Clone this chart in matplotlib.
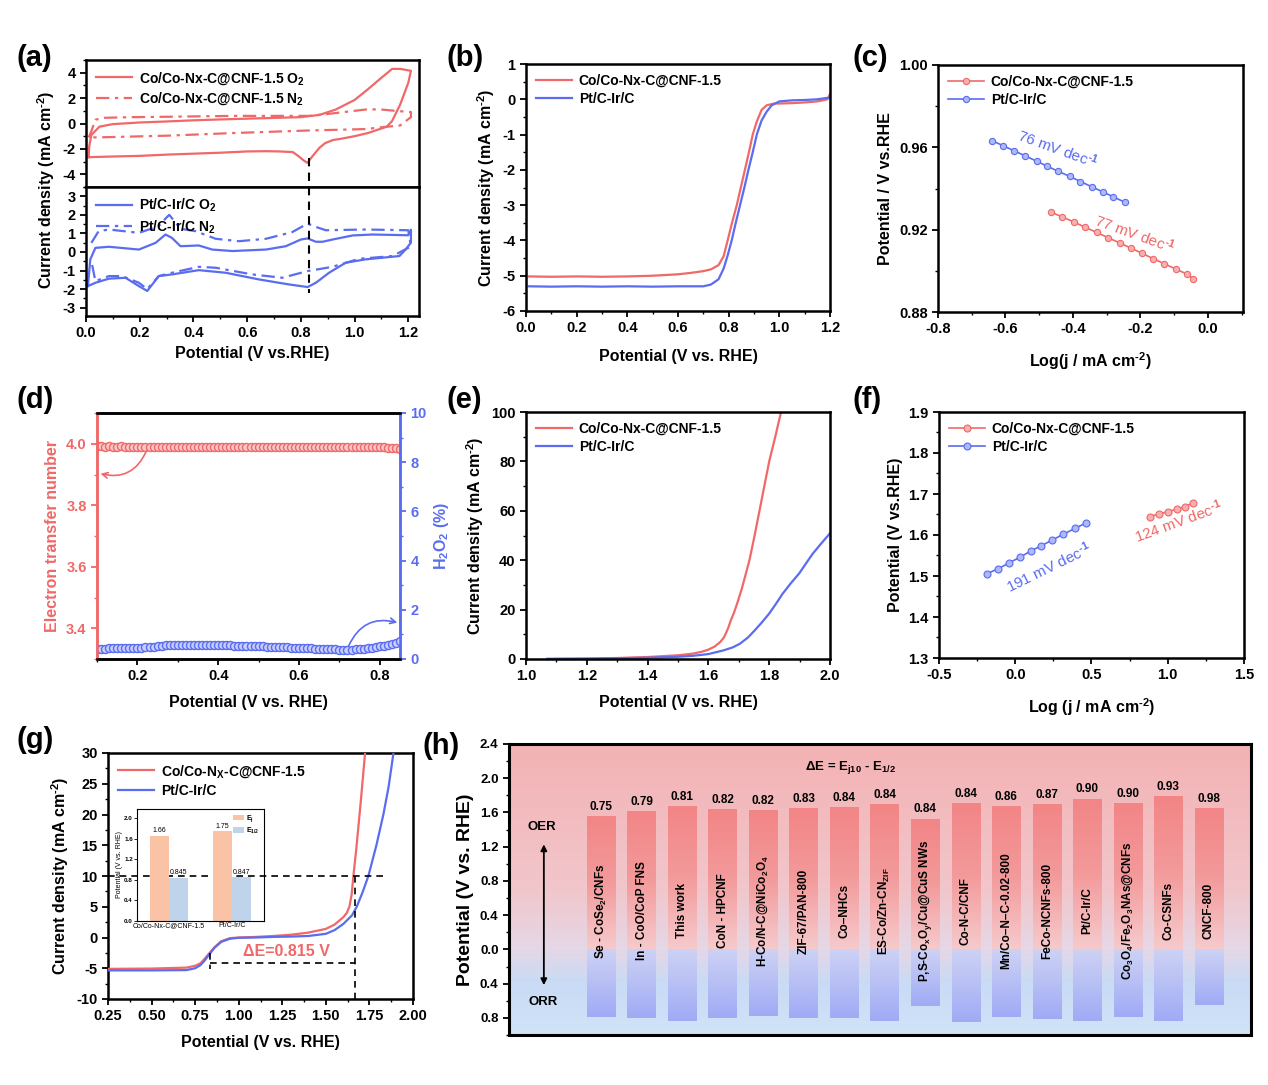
import numpy as np
import matplotlib
matplotlib.use('Agg')
import matplotlib.pyplot as plt
from matplotlib.ticker import MultipleLocator, FormatStrFormatter, FixedLocator, FuncFormatter
from matplotlib.colors import LinearSegmentedColormap

plt.rcParams['font.family'] = ['Liberation Sans', 'DejaVu Sans']
plt.rcParams['font.weight'] = 'bold'
plt.rcParams['axes.labelweight'] = 'bold'
plt.rcParams['axes.unicode_minus'] = False
plt.rcParams['mathtext.fontset'] = 'custom'
plt.rcParams['mathtext.rm'] = 'Liberation Sans:bold'
plt.rcParams['mathtext.bf'] = 'Liberation Sans:bold'
plt.rcParams['mathtext.it'] = 'Liberation Sans:bold'
plt.rcParams['mathtext.default'] = 'bf'
plt.rcParams['xtick.direction'] = 'out'
plt.rcParams['ytick.direction'] = 'out'

RED = '#F06868'
BLUE = '#5A6CF0'
LRED = '#F7AFAF'
LBLUE = '#AEB8F7'
HY = '\u2010'  # short hyphen used in the superscripts
CD = 'Current density (mA cm$^{' + HY + '2}$)'

# ---------------- data ----------------
# (a) CV curves
a_red_o2_x = [0.01, 0.012, 0.02, 0.05, 0.1, 0.2, 0.3, 0.4, 0.5, 0.6, 0.7, 0.8, 0.87, 0.93, 1.0, 1.05, 1.1, 1.14,
              1.17, 1.21, 1.2, 1.17, 1.14, 1.12, 1.05, 1.0, 0.95, 0.92, 0.89, 0.87, 0.85, 0.835, 0.825, 0.81,
              0.79, 0.77, 0.72, 0.67, 0.6, 0.5, 0.42, 0.3, 0.2, 0.1, 0.01]
a_red_o2_y = [-2.65, -1.8, -0.9, -0.25, -0.05, 0.08, 0.16, 0.25, 0.32, 0.38, 0.44, 0.5, 0.68, 1.1, 1.85, 2.7, 3.6,
              4.3, 4.3, 4.15, 3.2, 1.5, 0.2, -0.25, -0.75, -1.0, -1.2, -1.3, -1.55, -1.9, -2.4, -2.8, -3.1, -2.9,
              -2.55, -2.25, -2.2, -2.18, -2.2, -2.3, -2.36, -2.45, -2.55, -2.6, -2.65]
a_red_n2_x = [0.01, 0.02, 0.035, 0.07, 0.17, 0.3, 0.55, 0.83, 0.9, 0.98, 1.05, 1.1, 1.15, 1.21, 1.21, 1.17, 1.1,
              1.04, 0.83, 0.55, 0.3, 0.05, 0.01]
a_red_n2_y = [-1.1, -0.6, 0.3, 0.45, 0.5, 0.53, 0.6, 0.6, 0.75, 0.95, 1.12, 1.1, 1.0, 0.9, 0.5, -0.15, -0.3,
              -0.44, -0.55, -0.75, -0.96, -1.09, -1.1]
a_blue_o2_x = [0.007, 0.016, 0.035, 0.085, 0.197, 0.259, 0.296, 0.32, 0.352, 0.42, 0.47, 0.545, 0.67, 0.744, 0.8,
               0.825, 0.856, 0.881, 0.918, 0.993, 1.067, 1.2, 1.21, 1.21, 1.19, 1.167, 1.04, 0.967, 0.905, 0.856,
               0.825, 0.756, 0.644, 0.52, 0.42, 0.32, 0.271, 0.228, 0.197, 0.147, 0.085, 0.035, 0.007]
a_blue_o2_y = [-1.84, -0.4, 0.22, 0.28, 0.13, 0.49, 0.94, 0.76, 0.31, 0.35, 0.13, 0.05, 0.13, 0.31, 0.67, 0.73,
               0.55, 0.55, 0.67, 0.89, 0.94, 0.9, 1.2, 0.5, 0.13, -0.22, -0.4, -0.58, -1.12, -1.66, -1.89, -1.75,
               -1.48, -1.12, -0.98, -1.21, -1.3, -2.1, -1.84, -1.39, -1.44, -1.66, -1.84]
a_blue_n2_x = [0.02, 0.047, 0.085, 0.197, 0.271, 0.296, 0.31, 0.352, 0.408, 0.483, 0.57, 0.67, 0.768, 0.825,
               0.856, 0.893, 1.04, 1.2, 1.21, 1.142, 1.017, 0.918, 0.825, 0.731, 0.619, 0.483, 0.42, 0.32,
               0.271, 0.228, 0.197, 0.134, 0.085, 0.035, 0.02]
a_blue_n2_y = [0.49, 1.12, 1.21, 1.03, 1.39, 1.8, 2.0, 1.25, 1.12, 0.71, 0.58, 0.71, 1.07, 1.53, 1.35, 1.17,
               1.21, 1.17, 0.3, -0.22, -0.37, -0.8, -1.03, -1.39, -1.21, -0.85, -0.8, -1.12, -1.3, -2.0, -1.66,
               -1.3, -1.3, -1.57, -0.5]

# (b) ORR LSV
b_red_x = [0.01, 0.1, 0.2, 0.3, 0.4, 0.5, 0.6, 0.65, 0.7, 0.73, 0.76, 0.78, 0.796, 0.815, 0.832, 0.848, 0.864,
           0.88, 0.895, 0.91, 0.93, 0.95, 0.98, 1.0, 1.05, 1.1, 1.15, 1.19, 1.2]
b_red_y = [-5.02, -5.03, -5.02, -5.03, -5.02, -5.0, -4.96, -4.92, -4.87, -4.82, -4.7, -4.45, -4.0, -3.45, -3.0,
           -2.5, -2.0, -1.5, -1.0, -0.65, -0.3, -0.17, -0.12, -0.12, -0.11, -0.09, -0.06, 0.0, 0.15]
b_blue_x = [0.01, 0.1, 0.2, 0.3, 0.4, 0.5, 0.6, 0.7, 0.73, 0.76, 0.78, 0.795, 0.812, 0.828, 0.845, 0.862, 0.878,
            0.895, 0.911, 0.93, 0.95, 0.97, 1.0, 1.05, 1.1, 1.15, 1.2]
b_blue_y = [-5.3, -5.31, -5.3, -5.31, -5.3, -5.31, -5.3, -5.3, -5.25, -5.1, -4.8, -4.45, -4.0, -3.5, -3.0, -2.5,
            -2.0, -1.5, -1.0, -0.6, -0.35, -0.17, -0.06, -0.03, -0.02, 0.0, 0.05]

# (c) ORR Tafel
c_red_x = [-0.466, -0.432, -0.397, -0.363, -0.330, -0.296, -0.262, -0.229, -0.195, -0.162, -0.129, -0.094,
           -0.061, -0.043]
c_red_y = [0.9286, 0.9262, 0.9237, 0.9211, 0.9187, 0.9161, 0.9136, 0.9111, 0.9085, 0.9059, 0.9034, 0.9008,
           0.8983, 0.8962]
c_blue_x = [-0.639, -0.606, -0.574, -0.541, -0.508, -0.476, -0.443, -0.410, -0.378, -0.345, -0.312, -0.280,
            -0.247]
c_blue_y = [0.9632, 0.9607, 0.9583, 0.9558, 0.9533, 0.9508, 0.9483, 0.9459, 0.9434, 0.9409, 0.9384, 0.9359,
            0.9334]

# (d) RRDE: electron transfer number and H2O2 yield
d_x = np.round(np.arange(0.10, 0.851, 0.01), 2)
d_n = [3.992, 3.992, 3.991, 3.992, 3.991, 3.991, 3.992, 3.991, 3.991, 3.991,
       3.990, 3.990, 3.990, 3.990, 3.990, 3.990, 3.990, 3.990, 3.990, 3.990,
       3.990, 3.990, 3.990, 3.990, 3.990, 3.990, 3.990, 3.990, 3.990, 3.990,
       3.990, 3.990, 3.990, 3.990, 3.990, 3.990, 3.990, 3.990, 3.990, 3.990,
       3.990, 3.990, 3.990, 3.990, 3.990, 3.990, 3.990, 3.990, 3.990, 3.990,
       3.990, 3.990, 3.990, 3.990, 3.990, 3.990, 3.990, 3.990, 3.990, 3.990,
       3.990, 3.990, 3.990, 3.990, 3.990, 3.990, 3.990, 3.990, 3.990, 3.990,
       3.989, 3.988, 3.987, 3.986, 3.985, 3.984]
d_h2o2 = [0.42, 0.42, 0.42, 0.43, 0.43, 0.43, 0.44, 0.44, 0.44, 0.45,
          0.45, 0.46, 0.47, 0.48, 0.49, 0.51, 0.53, 0.55, 0.56, 0.57,
          0.58, 0.58, 0.58, 0.58, 0.58, 0.58, 0.58, 0.57, 0.57, 0.57,
          0.56, 0.56, 0.55, 0.55, 0.54, 0.54, 0.53, 0.53, 0.52, 0.52,
          0.51, 0.51, 0.50, 0.50, 0.49, 0.48, 0.48, 0.47, 0.46, 0.46,
          0.45, 0.44, 0.44, 0.43, 0.42, 0.42, 0.41, 0.40, 0.40, 0.39,
          0.38, 0.38, 0.38, 0.38, 0.39, 0.40, 0.42, 0.44, 0.46, 0.48,
          0.51, 0.54, 0.57, 0.62, 0.67, 0.72]

# (e) OER LSV
e_red_x = [1.07, 1.2, 1.3, 1.4, 1.5, 1.55, 1.58, 1.6, 1.62, 1.64, 1.652, 1.665, 1.674, 1.685, 1.696, 1.71, 1.722,
           1.735, 1.752, 1.768, 1.784, 1.80, 1.82, 1.839]
e_red_y = [0.1, 0.2, 0.4, 0.8, 1.5, 2.2, 3.0, 3.8, 5.0, 7.0, 8.9, 12.5, 15.7, 19.0, 23.0, 28.5, 34.0, 40.0,
           50.0, 60.0, 70.0, 80.0, 90.0, 100.0]
e_blue_x = [1.07, 1.2, 1.3, 1.4, 1.5, 1.55, 1.6, 1.65, 1.68, 1.704, 1.73, 1.751, 1.775, 1.80, 1.822, 1.844,
            1.87, 1.899, 1.92, 1.943, 1.97, 2.0]
e_blue_y = [0.0, 0.1, 0.3, 0.5, 0.9, 1.3, 2.0, 3.5, 4.7, 6.2, 8.7, 11.4, 14.7, 18.4, 22.3, 26.4, 30.5, 34.7,
            38.5, 42.6, 46.6, 50.9]

# (f) OER Tafel
f_red_x = [0.883, 0.942, 1.001, 1.058, 1.113, 1.168]
f_red_y = [1.645, 1.651, 1.657, 1.663, 1.669, 1.679]
f_blue_x = [-0.183, -0.110, -0.040, 0.032, 0.102, 0.172, 0.244, 0.316, 0.391, 0.467]
f_blue_y = [1.506, 1.518, 1.532, 1.546, 1.561, 1.574, 1.588, 1.602, 1.616, 1.630]

# (g) full range LSV
g_red_x = [0.25, 0.5, 0.7, 0.75, 0.78, 0.8, 0.83, 0.86, 0.9, 0.95, 1.0, 1.1, 1.2, 1.3, 1.4, 1.5, 1.55, 1.6, 1.62,
           1.635, 1.648, 1.658, 1.675, 1.7, 1.725]
g_red_y = [-5.1, -5.05, -4.9, -4.6, -4.2, -3.6, -2.6, -1.6, -0.6, -0.1, 0.0, 0.1, 0.25, 0.45, 0.8, 1.4, 2.1, 3.3,
           4.0, 5.0, 7.0, 10.0, 14.5, 22.0, 30.0]
g_blue_x = [0.25, 0.5, 0.7, 0.75, 0.78, 0.8, 0.83, 0.86, 0.9, 0.95, 1.0, 1.1, 1.2, 1.3, 1.4, 1.5, 1.55, 1.6, 1.65,
            1.677, 1.71, 1.744, 1.79, 1.83, 1.86, 1.888]
g_blue_y = [-5.35, -5.35, -5.3, -5.0, -4.5, -3.9, -2.8, -1.7, -0.7, -0.2, -0.05, 0.0, 0.1, 0.15, 0.25, 0.6, 1.2,
            2.2, 3.6, 5.0, 7.3, 10.0, 15.0, 20.0, 24.5, 30.0]
g_e_j10 = 1.665
g_e_half = 0.835
inset_groups = ['Co/Co-Nx-C@CNF-1.5', 'Pt/C-Ir/C']
inset_ej = [1.66, 1.75]
inset_ehalf = [0.845, 0.847]

# (h) comparison of OER (E_j10) and ORR (E_1/2)
h_names = ['Se - CoSe$_2$/CNFs', 'In - CoO/CoP FNS', 'This work', 'CoN - HPCNF', 'H-Co/N-C@NiCo$_2$O$_4$',
           'ZIF-67/PAN-800', 'Co\u2013NHCs', 'ES-Co/Zn-CN$_{ZIF}$', 'P,S-Co$_x$O$_y$/Cu@CuS NWs', 'Co-N-C/CNF',
           'Mn/Co\u2013N\u2013C-0.02-800', 'FeCo-NCNFs-800', 'Pt/C-Ir/C', 'Co$_3$O$_4$/Fe$_2$O$_3$NAs@CNFs',
           'Co-CSNFs', 'CNCF-800']
h_oer = [1.546, 1.604, 1.662, 1.631, 1.619, 1.639, 1.654, 1.685, 1.515, 1.701, 1.662, 1.689, 1.751, 1.701,
         1.779, 1.643]
h_orr = [0.784, 0.800, 0.835, 0.800, 0.777, 0.800, 0.800, 0.839, 0.656, 0.847, 0.784, 0.808, 0.835, 0.784,
         0.839, 0.645]
h_delta = ['0.75', '0.79', '0.81', '0.82', '0.82', '0.83', '0.84', '0.84', '0.84', '0.84', '0.86', '0.87',
           '0.90', '0.90', '0.93', '0.98']

# ---------------- figure ----------------
W, H = 1268, 1085
fig = plt.figure(figsize=(W / 100, H / 100), dpi=100)


def box(l, r, t, b):
    return [l / W, 1 - b / H, (r - l) / W, (b - t) / H]


def style(ax, lw=1.8):
    for s in ax.spines.values():
        s.set_linewidth(lw)
    ax.tick_params(which='major', length=4, width=1.3, labelsize=10.5, top=False, right=False)
    ax.tick_params(which='minor', length=2.2, width=1.0, top=False, right=False)


AL = 11.5  # axis label size
LEG = dict(frameon=False, fontsize=10, handlelength=2.6, borderaxespad=0.3, labelspacing=0.3, handletextpad=0.5)
DASHDOT = (0, (6, 2.5, 1.5, 2.5))

# ----- (a)
ax_at = fig.add_axes(box(86, 419, 60, 187))
ax_ab = fig.add_axes(box(86, 419, 187, 316))
ax_at.plot(a_red_o2_x, a_red_o2_y, color=RED, lw=1.6, label='Co/Co-Nx-C@CNF-1.5 O$_2$')
ax_at.plot(a_red_n2_x, a_red_n2_y, color=RED, lw=1.6, ls=DASHDOT, label='Co/Co-Nx-C@CNF-1.5 N$_2$')
ax_ab.plot(a_blue_o2_x, a_blue_o2_y, color=BLUE, lw=1.6, label='Pt/C-Ir/C O$_2$')
ax_ab.plot(a_blue_n2_x, a_blue_n2_y, color=BLUE, lw=1.6, ls=DASHDOT, label='Pt/C-Ir/C N$_2$')
for ax in (ax_at, ax_ab):
    ax.set_xlim(0, 1.24)
    ax.xaxis.set_major_locator(MultipleLocator(0.2))
    ax.xaxis.set_minor_locator(MultipleLocator(0.1))
    style(ax)
ax_at.set_ylim(-5, 5)
ax_at.yaxis.set_major_locator(FixedLocator([-4, -2, 0, 2, 4]))
ax_at.yaxis.set_minor_locator(MultipleLocator(1))
ax_at.tick_params(axis='x', which='both', labelbottom=False, length=0)
ax_ab.set_ylim(-3.45, 3.5)
ax_ab.yaxis.set_major_locator(FixedLocator([-3, -2, -1, 0, 1, 2, 3]))
ax_ab.yaxis.set_minor_locator(MultipleLocator(0.5))
ax_ab.xaxis.set_major_formatter(FormatStrFormatter('%.1f'))
ax_at.plot([0.83, 0.83], [-2.75, -5], color='black', lw=1.5, ls=(0, (4, 3)))
ax_ab.plot([0.83, 0.83], [3.5, -2.2], color='black', lw=1.5, ls=(0, (4, 3)))
ax_at.legend(loc='upper left', **LEG)
ax_ab.legend(loc='upper left', **LEG)
ax_ab.set_xlabel('Potential (V vs.RHE)', fontsize=AL)
fig.text(46 / W, 1 - 190 / H, CD, rotation=90, ha='center', va='center', fontsize=AL, fontweight='bold')

# ----- (b)
ax_b = fig.add_axes(box(526, 830, 64, 311))
ax_b.plot(b_red_x, b_red_y, color=RED, lw=1.6, label='Co/Co-Nx-C@CNF-1.5')
ax_b.plot(b_blue_x, b_blue_y, color=BLUE, lw=1.6, label='Pt/C-Ir/C')
ax_b.set_xlim(0, 1.2)
ax_b.set_ylim(-6, 1)
ax_b.xaxis.set_major_locator(MultipleLocator(0.2))
ax_b.xaxis.set_minor_locator(MultipleLocator(0.1))
ax_b.xaxis.set_major_formatter(FormatStrFormatter('%.1f'))
ax_b.yaxis.set_major_locator(MultipleLocator(1))
ax_b.yaxis.set_minor_locator(MultipleLocator(0.5))
style(ax_b)
ax_b.legend(loc='upper left', **LEG)
ax_b.set_xlabel('Potential (V vs. RHE)', fontsize=AL, labelpad=10)
ax_b.set_ylabel(CD, fontsize=AL)

# ----- (c)
ax_c = fig.add_axes(box(938, 1243, 65, 312))
ax_c.plot(c_red_x, c_red_y, color=RED, lw=1.2, marker='o', ms=4.5, mfc=LRED, mec=RED, mew=0.8,
          label='Co/Co-Nx-C@CNF-1.5')
ax_c.plot(c_blue_x, c_blue_y, color=BLUE, lw=1.2, marker='o', ms=4.5, mfc=LBLUE, mec=BLUE, mew=0.8,
          label='Pt/C-Ir/C')
ax_c.set_xlim(-0.8, 0.104)
ax_c.set_ylim(0.88, 1.0)
ax_c.xaxis.set_major_locator(MultipleLocator(0.2))
ax_c.xaxis.set_minor_locator(MultipleLocator(0.1))
ax_c.xaxis.set_major_formatter(FormatStrFormatter('%.1f'))
ax_c.yaxis.set_major_locator(MultipleLocator(0.04))
ax_c.yaxis.set_minor_locator(MultipleLocator(0.02))
ax_c.yaxis.set_major_formatter(FormatStrFormatter('%.2f'))
style(ax_c)
ax_c.legend(loc='upper left', **LEG)
ax_c.text(-0.444, 0.9595, '76 mV dec$^{' + HY + '1}$', color=BLUE, rotation=-20, ha='center', va='center',
          fontsize=11, fontweight='normal')
ax_c.text(-0.216, 0.918, '77 mV dec$^{' + HY + '1}$', color=RED, rotation=-20, ha='center', va='center',
          fontsize=11, fontweight='normal')
ax_c.set_xlabel('Log(j / mA cm$^{' + HY + '2}$)', fontsize=AL, labelpad=10)
ax_c.set_ylabel('Potential / V vs.RHE', fontsize=AL)

# ----- (d)
ax_d = fig.add_axes(box(97, 400, 413, 659))
ax_d2 = ax_d.twinx()
ax_d.plot(d_x, d_n, ls='none', marker='o', ms=5.8, mfc='#F9C8C8', mec=RED, mew=1.0)
ax_d2.plot(d_x, d_h2o2, ls='none', marker='o', ms=5.8, mfc='#C8CFFA', mec=BLUE, mew=1.0)
ax_d.set_xlim(0.1, 0.85)
ax_d.set_ylim(3.3, 4.1)
ax_d2.set_ylim(0, 10)
ax_d.xaxis.set_major_locator(FixedLocator([0.2, 0.4, 0.6, 0.8]))
ax_d.xaxis.set_minor_locator(MultipleLocator(0.1))
ax_d.xaxis.set_major_formatter(FormatStrFormatter('%.1f'))
ax_d.yaxis.set_major_locator(FixedLocator([3.4, 3.6, 3.8, 4.0]))
ax_d.yaxis.set_minor_locator(MultipleLocator(0.1))
ax_d2.yaxis.set_major_locator(MultipleLocator(2))
ax_d2.yaxis.set_minor_locator(MultipleLocator(1))
style(ax_d)
for s in ax_d2.spines.values():
    s.set_linewidth(1.8)
ax_d2.spines['left'].set_color(RED)
ax_d2.spines['right'].set_color(BLUE)
ax_d.spines['left'].set_color(RED)
ax_d.spines['right'].set_color(BLUE)
ax_d.tick_params(axis='y', which='both', colors=RED)
ax_d2.tick_params(axis='y', which='major', colors=BLUE, length=4, width=1.3, labelsize=10.5)
ax_d2.tick_params(axis='y', which='minor', colors=BLUE, length=2.2, width=1.0)
ax_d.set_ylabel('Electron transfer number', color=RED, fontsize=AL)
ax_d2.set_ylabel('H$_2$O$_2$ (%)', color=BLUE, fontsize=AL)
ax_d.set_xlabel('Potential (V vs. RHE)', fontsize=AL, labelpad=8)
ax_d.annotate('', xy=(0.102, 3.905), xytext=(0.225, 3.985),
              arrowprops=dict(arrowstyle='->', color=RED, lw=1.2, connectionstyle='arc3,rad=-0.45'))
ax_d2.annotate('', xy=(0.85, 1.45), xytext=(0.72, 0.42),
               arrowprops=dict(arrowstyle='->', color=BLUE, lw=1.2, connectionstyle='arc3,rad=-0.45'))

# ----- (e)
ax_e = fig.add_axes(box(526, 830, 412, 659))
ax_e.plot(e_red_x, e_red_y, color=RED, lw=1.6, label='Co/Co-Nx-C@CNF-1.5')
ax_e.plot(e_blue_x, e_blue_y, color=BLUE, lw=1.6, label='Pt/C-Ir/C')
ax_e.set_xlim(1.0, 2.0)
ax_e.set_ylim(0, 100)
ax_e.xaxis.set_major_locator(MultipleLocator(0.2))
ax_e.xaxis.set_minor_locator(MultipleLocator(0.1))
ax_e.xaxis.set_major_formatter(FormatStrFormatter('%.1f'))
ax_e.yaxis.set_major_locator(MultipleLocator(20))
ax_e.yaxis.set_minor_locator(MultipleLocator(10))
style(ax_e)
ax_e.legend(loc='upper left', **LEG)
ax_e.set_xlabel('Potential (V vs. RHE)', fontsize=AL, labelpad=8)
ax_e.set_ylabel(CD, fontsize=AL)

# ----- (f)
ax_f = fig.add_axes(box(939, 1244, 412, 658))
ax_f.plot(f_red_x, f_red_y, color=RED, lw=1.2, marker='o', ms=5, mfc=LRED, mec=RED, mew=0.8,
          label='Co/Co-Nx-C@CNF-1.5')
ax_f.plot(f_blue_x, f_blue_y, color=BLUE, lw=1.2, marker='o', ms=5, mfc=LBLUE, mec=BLUE, mew=0.8,
          label='Pt/C-Ir/C')
ax_f.set_xlim(-0.5, 1.5)
ax_f.set_ylim(1.3, 1.9)
ax_f.xaxis.set_major_locator(MultipleLocator(0.5))
ax_f.xaxis.set_minor_locator(MultipleLocator(0.25))
ax_f.xaxis.set_major_formatter(FormatStrFormatter('%.1f'))
ax_f.yaxis.set_major_locator(MultipleLocator(0.1))
ax_f.yaxis.set_minor_locator(MultipleLocator(0.05))
ax_f.yaxis.set_major_formatter(FormatStrFormatter('%.1f'))
style(ax_f)
ax_f.legend(loc='upper left', **LEG)
ax_f.text(0.217, 1.522, '191 mV dec$^{' + HY + '1}$', color=BLUE, rotation=26, ha='center', va='center',
          fontsize=11, fontweight='normal')
ax_f.text(1.069, 1.632, '124 mV dec$^{' + HY + '1}$', color=RED, rotation=20, ha='center', va='center',
          fontsize=11, fontweight='normal')
ax_f.set_xlabel('Log (j / mA cm$^{' + HY + '2}$)', fontsize=AL, labelpad=10)
ax_f.set_ylabel('Potential (V vs.RHE)', fontsize=AL)

# ----- (g)
ax_g = fig.add_axes(box(108, 413, 753, 999))
ax_g.plot(g_red_x, g_red_y, color=RED, lw=1.6, label='Co/Co-N$_X$-C@CNF-1.5', zorder=3)
ax_g.plot(g_blue_x, g_blue_y, color=BLUE, lw=1.6, label='Pt/C-Ir/C', zorder=3)
dash = dict(color='black', lw=1.2, ls=(0, (4, 3)), zorder=4)
ax_g.plot([0.25, 1.85], [10, 10], **dash)
ax_g.plot([g_e_j10, g_e_j10], [10, -10], **dash)
ax_g.plot([g_e_half, g_e_j10], [-4.2, -4.2], **dash)
ax_g.plot([g_e_half, g_e_half], [-2.6, -5.2], **dash)
ax_g.text(1.275, -2.3, '\u0394E=0.815 V', color=RED, ha='center', va='center', fontsize=11.5)
ax_g.set_xlim(0.25, 2.0)
ax_g.set_ylim(-10, 30)
ax_g.xaxis.set_major_locator(MultipleLocator(0.25))
ax_g.xaxis.set_minor_locator(MultipleLocator(0.125))
ax_g.xaxis.set_major_formatter(FormatStrFormatter('%.2f'))
ax_g.yaxis.set_major_locator(MultipleLocator(5))
ax_g.yaxis.set_minor_locator(MultipleLocator(2.5))
style(ax_g)
ax_g.legend(loc='upper left', **LEG)
ax_g.set_xlabel('Potential (V vs. RHE)', fontsize=AL, labelpad=8)
ax_g.set_ylabel(CD, fontsize=AL)

ax_in = fig.add_axes(box(137, 264, 809, 921))
ax_in.set_facecolor('none')
gx = np.arange(len(inset_groups))
bw = 0.3
ax_in.bar(gx - bw / 2, inset_ej, bw, color='#FAC3A6', edgecolor='none', label='E$_j$')
ax_in.bar(gx + bw / 2, inset_ehalf, bw, color='#BFD3EA', edgecolor='none', label='E$_{1/2}$')
for xx, v in zip(gx - bw / 2, inset_ej):
    ax_in.text(xx, v + 0.03, f'{v:.2f}', ha='center', va='bottom', fontsize=5, fontweight='normal')
for xx, v in zip(gx + bw / 2, inset_ehalf):
    ax_in.text(xx, v + 0.03, f'{v:.3f}', ha='center', va='bottom', fontsize=5, fontweight='normal')
ax_in.set_xlim(-0.5, 1.5)
ax_in.set_ylim(0, 2.18)
ax_in.set_xticks(gx)
ax_in.set_xticklabels(inset_groups, fontsize=5, fontweight='normal')
ax_in.yaxis.set_major_locator(MultipleLocator(0.4))
ax_in.yaxis.set_major_formatter(FormatStrFormatter('%.1f'))
ax_in.tick_params(axis='y', labelsize=4.5, length=2, width=0.6, pad=1)
ax_in.tick_params(axis='x', length=0, pad=1)
for s in ax_in.spines.values():
    s.set_linewidth(0.8)
ax_in.set_ylabel('Potential (V vs. RHE)', fontsize=5, fontweight='normal', labelpad=1)
ax_in.legend(loc='upper right', frameon=False, fontsize=5, handlelength=1.6, handleheight=0.8,
             borderaxespad=0.2, labelspacing=0.2, handletextpad=0.3)

# ----- (h)
ax_h = fig.add_axes(box(509, 1251, 744, 1035))
hx = np.arange(len(h_names))
xl = (-2.27, len(h_names) + 0.04)
yl = (-1.0, 2.4)
bg_cmap = LinearSegmentedColormap.from_list(
    'bg', [(0.0, '#D0E3F7'), (0.18, '#C9DBF5'), (0.3, '#E6D7E6'), (0.5, '#F1C6CB'), (1.0, '#F4B2B4')])
ax_h.imshow(np.linspace(0, 1, 256).reshape(-1, 1), cmap=bg_cmap, origin='lower', aspect='auto',
            extent=[xl[0], xl[1], yl[0], yl[1]], zorder=0)
oer_cmap = LinearSegmentedColormap.from_list('oer', ['#F6CACC', '#F39A9B', '#F28586'])
orr_cmap = LinearSegmentedColormap.from_list('orr', ['#A0AAF5', '#B7BFF5', '#CDD2F4'])
grad = np.linspace(0, 1, 128).reshape(-1, 1)
hw = 0.7
for xx, top, bot, dlab, name in zip(hx, h_oer, h_orr, h_delta, h_names):
    ax_h.imshow(grad, cmap=oer_cmap, origin='lower', aspect='auto',
                extent=[xx - hw / 2, xx + hw / 2, 0, top], zorder=2)
    ax_h.imshow(grad, cmap=orr_cmap, origin='lower', aspect='auto',
                extent=[xx - hw / 2, xx + hw / 2, -bot, 0], zorder=2)
    ax_h.text(xx, top + 0.05, dlab, ha='center', va='bottom', fontsize=8.5, zorder=4)
    ax_h.text(xx, 0.45, name, rotation=90, ha='center', va='center', fontsize=8.5, zorder=4)
ax_h.set_xlim(*xl)
ax_h.set_ylim(*yl)
ax_h.annotate('', xy=(-1.41, 1.26), xytext=(-1.41, -0.45),
              arrowprops=dict(arrowstyle='<|-|>', color='black', lw=1.3, mutation_scale=9))
ax_h.text(-1.45, 1.43, 'OER', ha='center', va='center', fontsize=9.5)
ax_h.text(-1.43, -0.62, 'ORR', ha='center', va='center', fontsize=9.5)
ax_h.text(6.15, 2.12, '\u0394E = E$_{j10}$ - E$_{1/2}$', ha='center', va='center', fontsize=9.5)
ax_h.set_xticks([])
ax_h.yaxis.set_major_locator(FixedLocator([-0.8, -0.4, 0.0, 0.4, 0.8, 1.2, 1.6, 2.0, 2.4]))
ax_h.yaxis.set_major_formatter(FuncFormatter(lambda v, p: f'{abs(v):.1f}'))
ax_h.yaxis.set_minor_locator(MultipleLocator(0.2))
style(ax_h, lw=2.2)
ax_h.tick_params(axis='y', labelsize=9.5)
ax_h.set_ylabel('Potential (V vs. RHE)', fontsize=14)

# panel labels
for lab, px, py in [('(a)', 16, 58), ('(b)', 447, 58), ('(c)', 853, 58), ('(d)', 16, 400), ('(e)', 447, 400),
                    ('(f)', 853, 400), ('(g)', 16, 740), ('(h)', 423, 746)]:
    fig.text(px / W, 1 - py / H, lab, fontsize=21, fontweight='bold', ha='left', va='center')

fig.savefig('out.png', dpi=100)
